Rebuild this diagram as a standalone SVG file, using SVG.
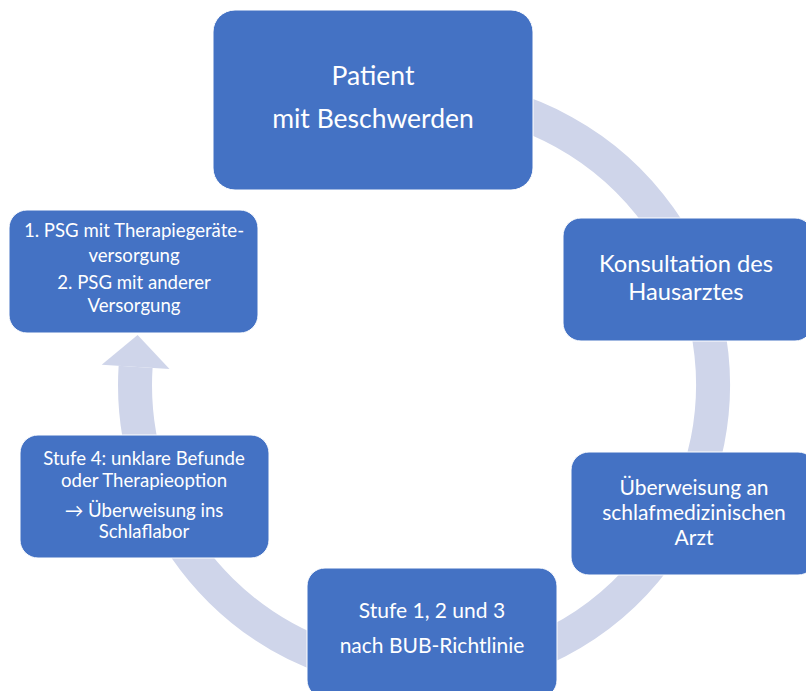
<svg xmlns="http://www.w3.org/2000/svg" width="806" height="691" viewBox="0 0 806 691">
<style>
.box{fill:#4472C4;stroke:#ffffff;stroke-width:1}
.t{fill:#ffffff;font-family:Lato,"Open Sans","Liberation Sans",sans-serif;text-anchor:middle}
.xl{font-size:26.5px}
.big{font-size:23.7px}
.mid{font-size:21px}
.sm{font-size:18.6px}
.arc{fill:none;stroke:#CFD5EA;stroke-width:34}
</style>
<g id="connectors">
<path class="arc" d="M325.2 113.4 A289 289 0 1 1 135.6 366.9"/>
<polygon points="101.7,364.8 169.5,369 137.6,335" fill="#CFD5EA"/>
</g>
<g id="patient">
<rect class="box" x="213" y="10" width="320" height="180" rx="22"/>
<text class="t xl" x="373" y="85">Patient</text>
<text class="t xl" x="373" y="128">mit Beschwerden</text>
</g>
<g id="hausarzt">
<rect class="box" x="563" y="218" width="250" height="123" rx="18"/>
<text class="t big" x="686" y="272">Konsultation des</text>
<text class="t big" x="686" y="300">Hausarztes</text>
</g>
<g id="ueberweisung">
<rect class="box" x="571" y="452" width="245" height="123" rx="18"/>
<text class="t mid" x="694" y="495">Überweisung an</text>
<text class="t mid" x="694" y="520">schlafmedizinischen</text>
<text class="t mid" x="694" y="545">Arzt</text>
</g>
<g id="stufe123">
<rect class="box" x="307" y="568" width="250" height="130" rx="18"/>
<text class="t mid" x="432" y="618">Stufe 1, 2 und 3</text>
<text class="t mid" x="432" y="653">nach BUB-Richtlinie</text>
</g>
<g id="stufe4">
<rect class="box" x="20" y="435" width="249" height="123" rx="18"/>
<text class="t sm" x="144" y="465">Stufe 4: unklare Befunde</text>
<text class="t sm" x="144" y="487">oder Therapieoption</text>
<text class="t sm" x="144" y="517">→ Überweisung ins</text>
<text class="t sm" x="144" y="538">Schlaflabor</text>
</g>
<g id="psg">
<rect class="box" x="9" y="210" width="249" height="123" rx="18"/>
<text class="t sm" x="134" y="237">1. PSG mit Therapiegeräte-</text>
<text class="t sm" x="134" y="262">versorgung</text>
<text class="t sm" x="134" y="289">2. PSG mit anderer</text>
<text class="t sm" x="134" y="312">Versorgung</text>
</g>
</svg>
